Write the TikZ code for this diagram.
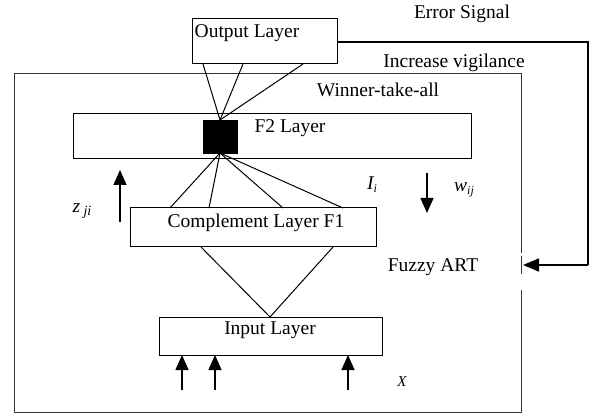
\documentclass[tikz,border=0pt]{standalone}
\usepackage{fontspec}
\setmainfont{Liberation Serif}
\usetikzlibrary{arrows.meta}
\begin{document}
\begin{tikzpicture}[x=1pt,y=-1pt,
  box/.style={draw,line width=1pt,inner sep=0pt,anchor=center},
  lbl/.style={inner sep=0pt,anchor=center,font=\fontsize{19.5}{23}\selectfont},
  sml/.style={inner sep=0pt,anchor=center,font=\fontsize{15}{18}\selectfont\itshape},
  wire/.style={line width=1pt},
  arr/.style={line width=1.1pt,-{Triangle[length=15pt,width=13pt]}},
  frame/.style={line width=0.8pt,draw=black!80}]
\useasboundingbox (0,0) rectangle (589,414);
% outer frame
\coordinate (fa) at (521,253);
\coordinate (fb) at (521,256);
\coordinate (fc) at (521,274);
\coordinate (fd) at (521,290);
\draw[frame] (fa) -- (521,73) -- (14,73) -- (14,412) -- (521,412) -- (fd);
\draw[frame] (fb) -- (fc);
% boxes
\node[box,minimum width=145pt,minimum height=45pt] (out) at (264.5,41.5) {};
\node[box,minimum width=398pt,minimum height=45pt] (f2) at (272,136.5) {};
\node[box,minimum width=246pt,minimum height=39pt] (f1) at (253,227.5) {};
\node[box,minimum width=223pt,minimum height=38pt] (in) at (270.5,336) {};
\node[draw,fill=black,inner sep=0pt,minimum width=34pt,minimum height=33pt] (win) at (220,136.5) {};
% texts
\node[lbl] (tout) at (247,33) {Output Layer};
\node[lbl] (tf2) at (290,128) {F2 Layer};
\node[lbl] (tf1) at (256,223) {Complement Layer F1};
\node[lbl] (tin) at (270,330) {Input Layer};
\node[lbl] (terr) at (462,14) {Error Signal};
\node[lbl] (tinc) at (454,63) {Increase vigilance};
\node[lbl] (twin) at (378,90) {Winner-take-all};
\node[lbl] (tfuz) at (433,267) {Fuzzy ART};
\node[lbl] (tz) at (82,211) {\itshape z\,\raisebox{-0.35ex}{\fontsize{14}{16}\selectfont ji}};
\node[lbl] (tI) at (372,185) {\itshape I\raisebox{-0.35ex}{\fontsize{12}{14}\selectfont i}};
\node[lbl] (tw) at (464,190) {\itshape w\raisebox{-0.4ex}{\fontsize{12}{14}\selectfont ij}};
\node[sml] (tx) at (402,382) {X};
% output to winner
\coordinate (wt) at (220,120);
\coordinate (wb) at (220,153);
\coordinate (o1) at (203,64);
\coordinate (o2) at (243,64);
\coordinate (o3) at (303,64);
\draw[wire] (o1) -- (wt);
\draw[wire] (o2) -- (wt);
\draw[wire] (o3) -- (wt);
% winner to F1
\coordinate (c1) at (170,208);
\coordinate (c2) at (209,208);
\coordinate (c3) at (283,208);
\coordinate (c4) at (343,208);
\draw[wire] (wb) -- (c1);
\draw[wire] (wb) -- (c2);
\draw[wire] (wb) -- (c3);
\draw[wire] (wb) -- (c4);
% F1 to input
\coordinate (v1) at (201,247);
\coordinate (v2) at (333,247);
\coordinate (va) at (270,317);
\draw[wire] (v1) -- (va) -- (v2);
% error signal
\coordinate (e1) at (588,42);
\coordinate (e2) at (588,265);
\coordinate (e3) at (523,265);
\draw[line width=1.5pt] (out.east |- e1) -- (e1) -- (e2);
\draw[line width=1.5pt,-{Triangle[length=16pt,width=13pt]}] (e2) -- (e3);
% z and w arrows
\coordinate (z0) at (120,222);
\coordinate (z1) at (120,170);
\draw[arr] (z0) -- (z1);
\coordinate (w0) at (427,173);
\coordinate (w1) at (427,213);
\draw[arr] (w0) -- (w1);
% input arrows
\foreach \xx/\nm in {182/a,215/b,348/c}{
  \coordinate (ib\nm) at (\xx,390);
  \draw[arr] (ib\nm) -- (\xx,355);
}
\end{tikzpicture}
\end{document}
